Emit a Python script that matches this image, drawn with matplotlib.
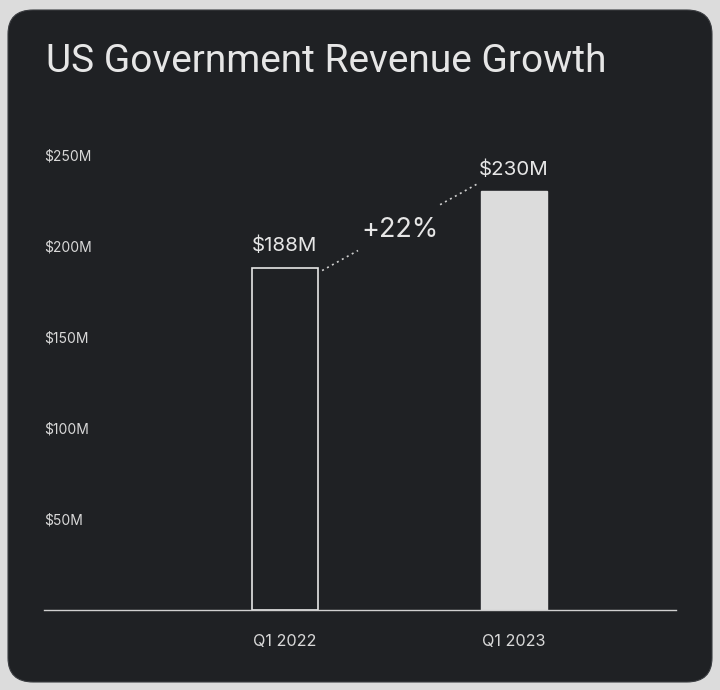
import numpy as np
import matplotlib
matplotlib.use('Agg')
import matplotlib.pyplot as plt
from matplotlib.patches import FancyBboxPatch

plt.rcParams['font.family'] = ['Inter', 'DejaVu Sans']

# data
quarters = ['Q1 2022', 'Q1 2023']
revenue_m = [188, 230]
value_labels = ['$188M', '$230M']
growth_label = '+22%'
ytick_vals = [50, 100, 150, 200, 250]
ytick_labels = ['$50M', '$100M', '$150M', '$200M', '$250M']

BG = '#dcdcdc'
PANEL = '#1f2124'
FG = '#e6e6e6'

fig = plt.figure(figsize=(7.2, 6.9), dpi=100, facecolor=BG)

# rounded dark card (behind the axes)
card = FancyBboxPatch((8 / 720, 8 / 690), 704 / 720, 672 / 690,
                      boxstyle='round,pad=0,rounding_size=0.035',
                      transform=fig.transFigure, facecolor=PANEL,
                      edgecolor='#3a3c40', linewidth=0.8, zorder=-10)
fig.patches.append(card)

fig.text(46 / 720, 1 - 61 / 690, 'US Government Revenue Growth',
         color=FG, fontsize=28, ha='left', va='center',
         family=['Roboto', 'DejaVu Sans'])

ax = fig.add_axes([44 / 720, 80 / 690, 632 / 720, 455 / 690])
ax.set_facecolor('none')
ax.set_zorder(5)

x = np.arange(len(quarters))
w = 0.288
ax.bar(x[0], revenue_m[0], width=w, facecolor=PANEL, edgecolor=FG,
       linewidth=1.2, zorder=3)
ax.bar(x[1], revenue_m[1], width=w, facecolor=BG, edgecolor=BG,
       linewidth=1.0, zorder=3)

for xi, v, lab in zip(x, revenue_m, value_labels):
    ax.annotate(lab, (xi, v), xytext=(0, 22), textcoords='offset pixels',
                color=FG, fontsize=14.8, ha='center', va='center')

# dotted connector with a gap for the growth label
x0, y0 = x[0] + w / 2 + 0.018, revenue_m[0] - 1.5
x1, y1 = x[1] - w / 2 - 0.018, revenue_m[1] + 4
for t0, t1 in [(0.0, 0.232), (0.762, 1.0)]:
    ax.plot([x0 + (x1 - x0) * t0, x0 + (x1 - x0) * t1],
            [y0 + (y1 - y0) * t0, y0 + (y1 - y0) * t1],
            color='#cfcfcf', linestyle=(0, (1.2, 2.2)), linewidth=1.2,
            zorder=2)
ax.text((x0 + x1) / 2 + 0.0, (y0 + y1) / 2 - 1.5, growth_label, color=FG,
        fontsize=19.5, ha='center', va='center')

ax.set_xlim(-1.052, 1.707)
ax.set_ylim(0, 250)
ax.set_xticks(x, quarters)
ax.set_yticks(ytick_vals, ytick_labels)
ax.tick_params(axis='x', length=0, pad=17, colors='#d8d8d8', labelsize=11.7)
ax.tick_params(axis='y', length=0, pad=0, colors='#d8d8d8', labelsize=10)
for lab in ax.get_yticklabels():
    lab.set_horizontalalignment('left')

for side in ['top', 'right', 'left']:
    ax.spines[side].set_visible(False)
ax.spines['bottom'].set_color('#d0d0d0')
ax.spines['bottom'].set_linewidth(1.0)
ax.spines['bottom'].set_zorder(4)

fig.savefig('out.png', dpi=100, facecolor=BG)
